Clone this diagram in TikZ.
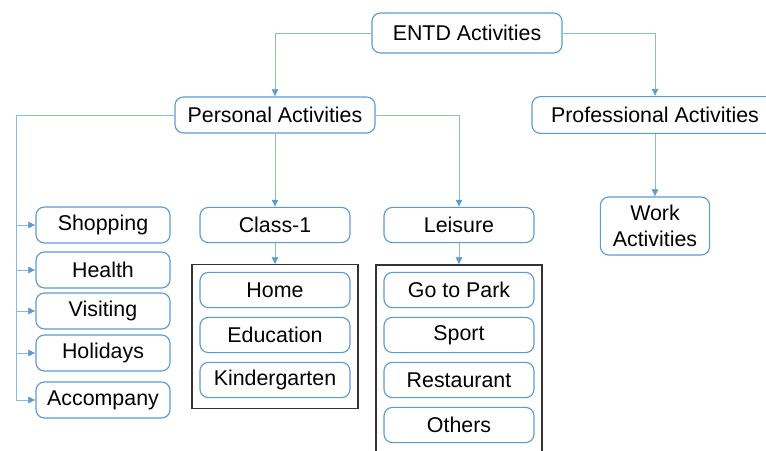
\documentclass[tikz,border=0pt]{standalone}
\usepackage{fontspec}
\setmainfont{Liberation Sans}
\usetikzlibrary{positioning}
\usetikzlibrary{arrows.meta}
\definecolor{boxblue}{RGB}{91,155,213}
\definecolor{lineblue}{RGB}{140,184,226}
\tikzstyle{actbox}=[rectangle,rounded corners=6pt,draw=boxblue,thick,fill=white,inner sep=2pt,align=center]
\tikzstyle{smallbox}=[actbox,minimum width=3.35cm,minimum height=0.9cm]
\tikzstyle{subbox}=[actbox,minimum width=3.75cm,minimum height=0.88cm]
\tikzstyle{groupbox}=[rectangle,draw=black!80,thick,inner sep=0pt]
\tikzstyle{link} = [draw,lineblue,thin,-{Latex[length=5pt,width=5pt,color=boxblue]}]
\tikzstyle{plainlink} = [draw,lineblue,thin]

\begin{document}
\begin{tikzpicture}[x=0.025cm,y=-0.025cm,font=\fontsize{15.2}{18}\selectfont]
    \useasboundingbox (0,0) rectangle (766,451);
    % top levels
    \node[actbox,minimum width=4.75cm,minimum height=1cm] (entd) at (467,33) {ENTD Activities};
    \node[actbox,minimum width=5cm,minimum height=0.9cm] (personal) at (275,115) {Personal Activities};
    \node[actbox,minimum width=6.15cm,minimum height=0.92cm] (prof) at (655,115) {Professional Activities};
    \node[actbox,minimum width=2.73cm,minimum height=1.45cm] (work) at (655,226) {Work\\Activities};

    % groups behind their boxes
    \node[groupbox,minimum width=4.15cm,minimum height=3.58cm] (classgrp) at (275,336.5) {};
    \node[groupbox,minimum width=4.15cm,minimum height=5cm] (leisuregrp) at (459,365) {};

    % left column
    \foreach \pos/\name/\label in {{(103,225)/shopping/Shopping}, {(103,270)/health/Health}, {(103,311)/visiting/Visiting}, {(103,353)/holidays/Holidays}, {(103,400)/accompany/Accompany}}
        \node[smallbox] (\name) at \pos {\label};

    % middle and right columns
    \foreach \pos/\name/\label in {{(275,225)/class1/Class-1}, {(275,290)/home/Home}, {(275,335)/education/Education}, {(275,380)/kinder/Kindergarten}, {(459,225)/leisure/Leisure}, {(459,290)/park/Go to Park}, {(459,335)/sport/Sport}, {(459,380)/restaurant/Restaurant}, {(459,425)/others/Others}}
        \node[subbox] (\name) at \pos {\label};

    % connectors
    \coordinate (bus) at (16,115);
    \path[link] (entd.west) -| (personal.north);
    \path[link] (entd.east) -| (prof.north);
    \path[link] (prof.south) -- (work.north);
    \path[link] (personal.south) -- (class1.north);
    \path[link] (personal.east) -| (leisure.north);
    \path[link] (class1.south) -- (classgrp.north);
    \path[link] (leisure.south) -- (leisuregrp.north);
    \path[plainlink] (personal.west) -- (bus);
    \foreach \dest in {shopping, health, visiting, holidays, accompany}
        \path[link] (bus) |- (\dest.west);
\end{tikzpicture}
\end{document}
